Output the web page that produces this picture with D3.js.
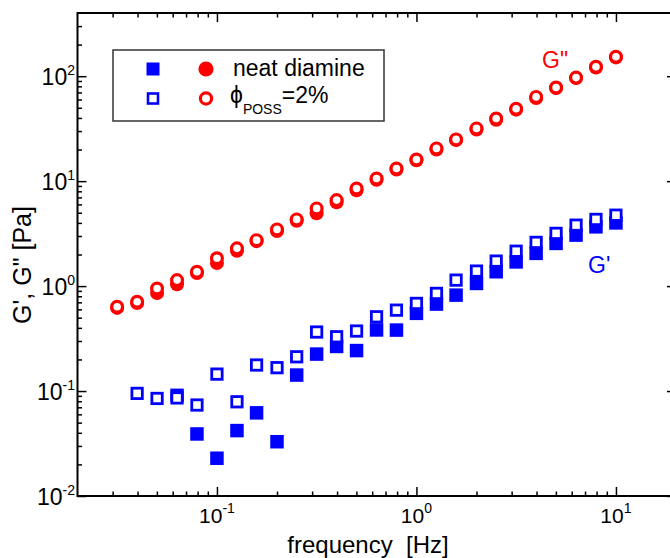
<!DOCTYPE html>
<html>
<head>
<meta charset="utf-8">
<script src="https://cdn.jsdelivr.net/npm/d3@7"></script>
<style>
  body { margin: 0; background: #fff; }
  svg { display: block; font-family: "Liberation Sans", Arial, sans-serif; }
</style>
</head>
<body>
<svg id="chart" width="670" height="558"></svg>
<script>
// measured frequencies [Hz]
const freq = [0.0316, 0.0398, 0.0501, 0.0631, 0.0794, 0.1, 0.126, 0.158, 0.2, 0.251,
  0.316, 0.398, 0.501, 0.631, 0.794, 1, 1.26, 1.58, 2, 2.51,
  3.16, 3.98, 5.01, 6.31, 7.94, 10];

// G' (storage modulus) [Pa]
const gpNeat = [null, null, null, 0.091, 0.039, 0.0229, 0.042, 0.062, 0.0329, 0.142,
  0.225, 0.266, 0.243, 0.382, 0.381, 0.55, 0.674, 0.82, 1.06, 1.37,
  1.7, 2.05, 2.55, 3.06, 3.67, 4.0];
const gpPoss = [null, 0.095, 0.085, 0.086, 0.0736, 0.145, 0.079, 0.177, 0.167, 0.212,
  0.365, 0.329, 0.373, 0.51, 0.59, 0.684, 0.852, 1.14, 1.39, 1.73,
  2.15, 2.61, 3.18, 3.81, 4.32, 4.74];

// G'' (loss modulus) [Pa]
const gppNeat = [0.62, 0.69, 0.86, 1.04, 1.33, 1.66, 2.17, 2.68, 3.35, 4.2,
  4.95, 6.3, 8.2, 10.3, 12.9, 15.8, 20, 24.6, 31, 38.5,
  48, 62, 77, 96, 121, 151];
const gppPoss = [0.635, 0.71, 0.95, 1.14, 1.37, 1.84, 2.29, 2.74, 3.47, 4.32,
  5.5, 6.6, 8.5, 10.6, 13.2, 16.1, 20.5, 25, 31.8, 39.5,
  49, 63.5, 78, 97, 123, 153];

const xMajor = [0.1, 1, 10];
const yMajor = [0.01, 0.1, 1, 10, 100];

const BLUE = "#0000ff";
const RED = "#ff0000";

const svg = d3.select("#chart");

const x = d3.scaleLog().domain([0.02, 20]).range([77.5, 676]);
const y = d3.scaleLog().domain([0.01, 400]).range([496, 13]);

const xMinor = x.ticks().filter(v => !xMajor.some(m => Math.abs(m - v) < 1e-9) && v > 0.0201 && v < 19.9);
const yMinor = y.ticks().filter(v => !yMajor.some(m => Math.abs(m - v) < 1e-12) && v < 399);

// ticks (all pointing inward)
function drawTicks(axis, transform) {
  const g = svg.append("g").attr("transform", transform).call(axis);
  g.select(".domain").remove();
  g.selectAll(".tick line").attr("stroke", "#000").attr("stroke-width", 1.5);
  g.selectAll(".tick text").remove();
}
[[xMajor, 9], [xMinor, 4.5]].forEach(([vals, len]) => {
  drawTicks(d3.axisBottom(x).tickValues(vals).tickSize(-len), `translate(0,${y.range()[0]})`);
  drawTicks(d3.axisTop(x).tickValues(vals).tickSize(-len), `translate(0,${y.range()[1]})`);
});
[[yMajor, 9], [yMinor, 4.5]].forEach(([vals, len]) => {
  drawTicks(d3.axisLeft(y).tickValues(vals).tickSize(-len), `translate(${x.range()[0]},0)`);
  drawTicks(d3.axisRight(y).tickValues(vals).tickSize(-len), `translate(${x.range()[1]},0)`);
});

// frame
svg.append("rect")
  .attr("x", x.range()[0])
  .attr("y", y.range()[1])
  .attr("width", x.range()[1] - x.range()[0])
  .attr("height", y.range()[0] - y.range()[1])
  .attr("fill", "none")
  .attr("stroke", "#000")
  .attr("stroke-width", 2);

// tick labels with superscript exponents
const yLab = svg.append("g").selectAll("text")
  .data(yMajor)
  .enter().append("text")
  .attr("x", x.range()[0] - 2.5)
  .attr("y", d => y(d) + 8.5)
  .attr("text-anchor", "end")
  .attr("fill", "#000");
yLab.append("tspan").attr("font-size", 23).text("10");
yLab.append("tspan").attr("font-size", 14).attr("dy", -10).text(d => Math.round(Math.log10(d)));

const xLab = svg.append("g").selectAll("text")
  .data(xMajor)
  .enter().append("text")
  .attr("x", d => x(d))
  .attr("y", 523)
  .attr("text-anchor", "middle")
  .attr("fill", "#000");
xLab.append("tspan").attr("font-size", 21).text("10");
xLab.append("tspan").attr("font-size", 14).attr("dy", -10).text(d => Math.round(Math.log10(d)));

// axis titles
svg.append("text")
  .attr("x", 368)
  .attr("y", 553)
  .attr("text-anchor", "middle")
  .attr("font-size", 24)
  .attr("xml:space", "preserve")
  .text("frequency  [Hz]");

svg.append("text")
  .attr("transform", "translate(31,265) rotate(-90)")
  .attr("text-anchor", "middle")
  .attr("font-size", 25)
  .text("G', G\" [Pa]");

// data: filled (neat) first, open (POSS) on top with white holes
const plot = svg.append("g");
const pts = arr => freq.map((f, i) => ({ f, v: arr[i] })).filter(d => d.v != null);

plot.append("g").selectAll("circle")
  .data(pts(gppNeat))
  .enter().append("circle")
  .attr("cx", d => x(d.f))
  .attr("cy", d => y(d.v))
  .attr("r", 7)
  .attr("fill", RED);

const sqF = 13.5, sqO = 10.4;
plot.append("g").selectAll("rect")
  .data(pts(gpNeat))
  .enter().append("rect")
  .attr("x", d => x(d.f) - sqF / 2)
  .attr("y", d => y(d.v) - sqF / 2)
  .attr("width", sqF)
  .attr("height", sqF)
  .attr("fill", BLUE);

plot.append("g").selectAll("circle")
  .data(pts(gppPoss))
  .enter().append("circle")
  .attr("cx", d => x(d.f))
  .attr("cy", d => y(d.v))
  .attr("r", 5.4)
  .attr("fill", "#fff")
  .attr("stroke", RED)
  .attr("stroke-width", 3.2);

plot.append("g").selectAll("rect")
  .data(pts(gpPoss))
  .enter().append("rect")
  .attr("x", d => x(d.f) - sqO / 2)
  .attr("y", d => y(d.v) - sqO / 2)
  .attr("width", sqO)
  .attr("height", sqO)
  .attr("fill", "#fff")
  .attr("stroke", BLUE)
  .attr("stroke-width", 2.8);

// curve labels
svg.append("text").attr("x", 542).attr("y", 68).attr("font-size", 23).attr("fill", RED).text("G\"");
svg.append("text").attr("x", 588).attr("y", 273).attr("font-size", 23).attr("fill", BLUE).text("G'");

// legend
const legend = svg.append("g");
legend.append("rect")
  .attr("x", 113).attr("y", 50).attr("width", 271).attr("height", 71)
  .attr("fill", "#fff").attr("stroke", "#333").attr("stroke-width", 1.5);

legend.append("rect").attr("x", 153 - 6.5).attr("y", 69 - 6.5).attr("width", 13).attr("height", 13).attr("fill", BLUE);
legend.append("circle").attr("cx", 206).attr("cy", 69).attr("r", 7.6).attr("fill", RED);
legend.append("rect").attr("x", 153 - 5).attr("y", 98.5 - 5).attr("width", 10).attr("height", 10)
  .attr("fill", "none").attr("stroke", BLUE).attr("stroke-width", 2.6);
legend.append("circle").attr("cx", 206).attr("cy", 98.5).attr("r", 5.6)
  .attr("fill", "none").attr("stroke", RED).attr("stroke-width", 3.2);

legend.append("text").attr("x", 233).attr("y", 76).attr("font-size", 23).text("neat diamine");
const phi = legend.append("text").attr("x", 230).attr("y", 103).attr("font-size", 23);
phi.append("tspan").text("\u03d5");
phi.append("tspan").attr("font-size", 14).attr("dy", 11).text("POSS");
phi.append("tspan").attr("dy", -11).text("=2%");
</script>
</body>
</html>
